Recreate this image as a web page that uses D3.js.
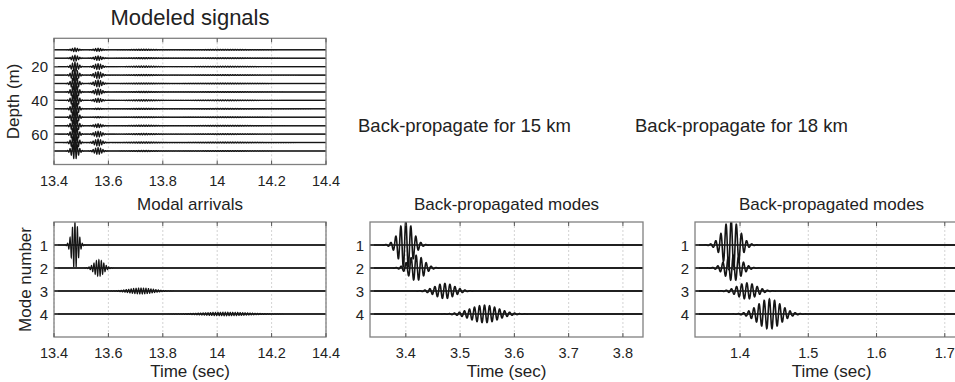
<!DOCTYPE html>
<html>
<head>
<meta charset="utf-8">
<script src="https://cdn.jsdelivr.net/npm/d3@7"></script>
<style>
  body { margin: 0; background: #fff; }
  text { font-family: "Liberation Sans", Arial, Helvetica, sans-serif; fill: #222; }
</style>
</head>
<body>
<svg id="chart" width="955" height="382"></svg>
<script>
'use strict';

// ---- values ----

// Modeled signals (vertical array)
var topDepths = [10, 15, 20, 25, 30, 35, 40, 45, 50, 55, 60, 65, 70];
var topTimeTicks = [13.4, 13.6, 13.8, 14, 14.2, 14.4];
var topDepthTicks = [20, 40, 60];
var topArrivalTimes = [13.477, 13.562, 13.73, 14.03];   // modes 1-4
var topArrivalWidths = [0.012, 0.014, 0.045, 0.09];
var topArrivalFreqs = [110, 110, 110, 110];
// packet amplitude on each hydrophone (m on the depth axis)
var topMode1Amp = [1.2, 1.8, 2.8, 3.5, 4.0, 4.2, 4.2, 4.2, 4.2, 4.2, 4.3, 4.5, 4.8];
var topMode2Amp = [1.0, 1.4, 1.8, 2.1, 2.1, 1.9, 1.3, 0.5, 0.4, 1.2, 1.8, 2.1, 2.1];
var topMode3Amp = [0.4, 0.4, 0.45, 0.4, 0.3, 0.4, 0.45, 0.4, 0.3, 0.4, 0.45, 0.4, 0.4];
var topMode4Amp = [0.3, 0.3, 0.3, 0.3, 0.25, 0.3, 0.3, 0.3, 0.25, 0.3, 0.3, 0.3, 0.3];

// Modal arrivals
var modeNumbers = [1, 2, 3, 4];
var modalTimeTicks = [13.4, 13.6, 13.8, 14, 14.2, 14.4];
var modalCenters = [13.477, 13.565, 13.72, 14.03];
var modalAmps = [1.05, 0.36, 0.13, 0.08];
var modalWidths = [0.012, 0.018, 0.045, 0.085];
var modalFreqs = [110, 110, 110, 110];

// Back-propagated 15 km
var bp15TimeTicks = [3.4, 3.5, 3.6, 3.7, 3.8];
var bp15Centers = [3.400, 3.419, 3.472, 3.545];
var bp15Amps = [1.05, 0.55, 0.33, 0.38];
var bp15Widths = [0.013, 0.014, 0.018, 0.026];
var bp15Freqs = [108, 108, 108, 108];

// Back-propagated 18 km
var bp18TimeTicks = [1.4, 1.5, 1.6, 1.7];
var bp18Centers = [1.387, 1.390, 1.41, 1.443];
var bp18Amps = [1.1, 0.55, 0.35, 0.65];
var bp18Widths = [0.012, 0.012, 0.014, 0.017];
var bp18Freqs = [132, 132, 132, 132];

var svg = d3.select('#chart');
var clipCount = 0;

// wave packets summed onto a baseline, sampled over the time domain
function trace(base, packets, t0, t1, dt) {
    var pts = [];
    for (var t = t0; t <= t1 + 1e-9; t += dt) {
        var v = 0;
        packets.forEach(function (p) {
            var u = (t - p.c) / p.s;
            if (Math.abs(u) < 6) v += p.a * Math.exp(-0.5 * u * u) * Math.cos(2 * Math.PI * p.f * (t - p.c));
        });
        pts.push([t, base - v]);   // axis runs downward, so signal up = subtract
    }
    return pts;
}

function panel(o) {
    var g = svg.append('g');
    var x = d3.scaleLinear().domain(o.xDomain).range(o.xRange);
    var y = d3.scaleLinear().domain(o.yDomain).range(o.yRange);
    var x0 = o.xRange[0], x1 = o.xRange[1], y0 = o.yRange[0], y1 = o.yRange[1];

    // dashed grid
    g.selectAll('line.grid').data(o.xTicks).enter().append('line')
        .attr('x1', d => x(d)).attr('x2', d => x(d))
        .attr('y1', y0).attr('y2', y1)
        .style('stroke', '#c8c8c8').style('stroke-width', 0.8)
        .style('stroke-dasharray', '2,2');

    var id = 'clip' + (clipCount++);
    svg.append('clipPath').attr('id', id).append('rect')
        .attr('x', x0).attr('y', y0).attr('width', x1 - x0).attr('height', y1 - y0);

    var line = d3.line().x(d => x(d[0])).y(d => y(d[1]));
    var tr = g.append('g').attr('clip-path', 'url(#' + id + ')');

    o.traces.forEach(function (t) {
        tr.append('line')
            .attr('x1', x0).attr('x2', x1 + 2)
            .attr('y1', y(t.base)).attr('y2', y(t.base))
            .style('stroke', '#444').style('stroke-width', o.baseWidth);
        tr.append('path')
            .attr('d', line(trace(t.base, t.packets, o.xDomain[0], o.xDomain[1], o.dt)))
            .style('fill', 'none').style('stroke', '#151515')
            .style('stroke-width', o.waveWidth);
    });

    // box
    g.append('rect')
        .attr('x', x0).attr('y', y0).attr('width', x1 - x0).attr('height', y1 - y0)
        .style('fill', 'none').style('stroke', '#808080').style('stroke-width', 1.3);

    // inward ticks
    o.xTicks.forEach(function (d) {
        g.append('line').attr('x1', x(d)).attr('x2', x(d)).attr('y1', y1).attr('y2', y1 - 4)
            .style('stroke', '#555');
        g.append('line').attr('x1', x(d)).attr('x2', x(d)).attr('y1', y0).attr('y2', y0 + 4)
            .style('stroke', '#555');
    });
    o.yTicks.forEach(function (d) {
        g.append('line').attr('x1', x0).attr('x2', x0 + 4).attr('y1', y(d)).attr('y2', y(d))
            .style('stroke', '#555');
    });

    g.selectAll('text.xt').data(o.xTicks).enter().append('text')
        .attr('x', d => x(d)).attr('y', y1 + 21)
        .attr('text-anchor', 'middle').style('font-size', '14.5px')
        .text(d => d);
    g.selectAll('text.yt').data(o.yTicks).enter().append('text')
        .attr('x', x0 - 6).attr('y', d => y(d) + 5.5)
        .attr('text-anchor', 'end').style('font-size', '15px')
        .text(d => d);

    if (o.title) {
        g.append('text').attr('x', (x0 + x1) / 2).attr('y', o.titleY)
            .attr('text-anchor', 'middle').style('font-size', o.titleSize)
            .text(o.title);
    }
    if (o.xLabel) {
        g.append('text').attr('x', (x0 + x1) / 2).attr('y', y1 + 40)
            .attr('text-anchor', 'middle').style('font-size', '17px')
            .text(o.xLabel);
    }
    if (o.yLabel) {
        g.append('text')
            .attr('transform', 'translate(' + o.yLabelX + ',' + (y0 + y1) / 2 + ') rotate(-90)')
            .attr('text-anchor', 'middle').style('font-size', '17px')
            .text(o.yLabel);
    }
}

function modeTraces(centers, amps, widths, freqs) {
    return modeNumbers.map(function (m, i) {
        return { base: m, packets: [{ c: centers[i], a: amps[i], s: widths[i], f: freqs[i] }] };
    });
}

// top: modeled signals
var topAmps = [topMode1Amp, topMode2Amp, topMode3Amp, topMode4Amp];
panel({
    xDomain: [13.4, 14.4], xRange: [54, 326],
    yDomain: [3.2, 78], yRange: [38.3, 164.5],
    xTicks: topTimeTicks, yTicks: topDepthTicks,
    dt: 0.0003, baseWidth: 1.4, waveWidth: 1.1,
    traces: topDepths.map(function (d, j) {
        return {
            base: d,
            packets: topArrivalTimes.map(function (c, i) {
                return { c: c, a: topAmps[i][j], s: topArrivalWidths[i], f: topArrivalFreqs[i] };
            })
        };
    }),
    title: 'Modeled signals', titleY: 25, titleSize: '22px',
    yLabel: 'Depth (m)', yLabelX: 19
});

// bottom left: modal arrivals
panel({
    xDomain: [13.4, 14.4], xRange: [54, 326],
    yDomain: [0, 5], yRange: [222, 337],
    xTicks: modalTimeTicks, yTicks: modeNumbers,
    dt: 0.0003, baseWidth: 1.8, waveWidth: 1.1,
    traces: modeTraces(modalCenters, modalAmps, modalWidths, modalFreqs),
    title: 'Modal arrivals', titleY: 210, titleSize: '17px',
    xLabel: 'Time (sec)', yLabel: 'Mode number', yLabelX: 31
});

// bottom middle: back-propagated 15 km
panel({
    xDomain: [3.334, 3.837], xRange: [370, 643],
    yDomain: [0, 5], yRange: [222, 337],
    xTicks: bp15TimeTicks, yTicks: modeNumbers,
    dt: 0.0002, baseWidth: 1.8, waveWidth: 1.6,
    traces: modeTraces(bp15Centers, bp15Amps, bp15Widths, bp15Freqs),
    title: 'Back-propagated modes', titleY: 210, titleSize: '17px',
    xLabel: 'Time (sec)'
});

// bottom right: back-propagated 18 km
panel({
    xDomain: [1.334, 1.734], xRange: [695, 968],
    yDomain: [0, 5], yRange: [222, 337],
    xTicks: bp18TimeTicks, yTicks: modeNumbers,
    dt: 0.0002, baseWidth: 1.8, waveWidth: 1.6,
    traces: modeTraces(bp18Centers, bp18Amps, bp18Widths, bp18Freqs),
    title: 'Back-propagated modes', titleY: 210, titleSize: '17px',
    xLabel: 'Time (sec)'
});

// big captions
svg.append('text').attr('x', 358).attr('y', 131.5).style('font-size', '18.5px')
    .text('Back-propagate for 15 km');
svg.append('text').attr('x', 635).attr('y', 131.5).style('font-size', '18.5px')
    .text('Back-propagate for 18 km');
</script>
</body>
</html>
